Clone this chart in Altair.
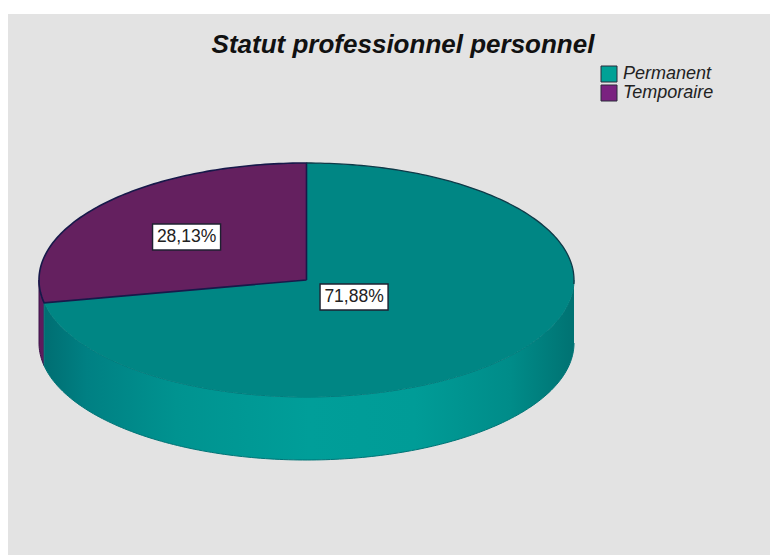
import math
import altair as alt
import pandas as pd

# chart values
categories = ["Permanent", "Temporaire"]
shares = [71.88, 28.13]
labels = ["71,88%", "28,13%"]

W, H = 762, 541
CX, CY, RX, RY = 298.5, 266.0, 267.5, 117.0
DEPTH = 63 / RY

x_scale = alt.Scale(domain=[-CX / RX, (W - CX) / RX], nice=False, zero=False)
y_scale = alt.Scale(domain=[-(H - CY) / RY, CY / RY], nice=False, zero=False)
X = alt.X("x:Q", scale=x_scale, axis=None)
Y = alt.Y("y:Q", scale=y_scale, axis=None)

split = 360 * shares[0] / (shares[0] + shares[1])


def arc(a0, a1, drop=0.0):
    n = max(2, int(abs(a1 - a0)) + 1)
    out = []
    for k in range(n + 1):
        a = math.radians(a0 + (a1 - a0) * k / n)
        out.append((math.sin(a), math.cos(a) - drop))
    return out


def path(points, **mark):
    df = pd.DataFrame(points, columns=["x", "y"])
    df["i"] = range(len(df))
    return alt.Chart(df).mark_line(**mark).encode(x=X, y=Y, order="i:Q")


def gradient(stops):
    return alt.Gradient(
        gradient="linear", x1=0, x2=1, y1=0, y2=0,
        stops=[alt.GradientStop(color=c, offset=o) for o, c in stops],
    )


wall_teal = arc(90, split) + arc(split, 90, DEPTH)
wall_purple = arc(split, 270) + arc(270, split, DEPTH)
top_teal = [(0, 0)] + arc(0, split) + [(0, 0)]
top_purple = [(0, 0)] + arc(split, 360) + [(0, 0)]

INK = "#17194A"
layers = [
    # legend source, hidden under the pie
    alt.Chart(pd.DataFrame({"cat": categories, "x": [0, 0], "y": [0, 0]}))
    .mark_square(size=1, opacity=1)
    .encode(
        x=X, y=Y,
        color=alt.Color(
            "cat:N",
            scale=alt.Scale(domain=categories, range=["#00A196", "#7A2280"]),
            legend=alt.Legend(
                title=None, orient="none", legendX=592, legendY=51,
                symbolType="square", symbolSize=256, symbolStrokeColor="#2A2A3A",
                symbolStrokeWidth=1, symbolOpacity=1,
                labelFont="Liberation Sans", labelFontStyle="italic", labelFontSize=18,
                labelColor="#222222", labelOffset=5, rowPadding=-2, padding=0,
            ),
        ),
    ),
    path(wall_purple, fill="#5E1B5C", stroke="#3A1248", strokeWidth=1),
    path(
        wall_teal,
        fill=gradient([
            (0.0, "#006E72"), (0.08, "#008083"), (0.25, "#009390"),
            (0.5, "#009E99"), (0.7, "#009C97"), (0.88, "#008C89"), (1.0, "#007272"),
        ]),
        stroke="#007476", strokeWidth=1,
    ),
    path(top_teal, fill="#008684", strokeWidth=0, stroke="#008684"),
    path(top_purple, fill="#64205F", stroke=INK, strokeWidth=1.6),
    path(arc(0, 92), stroke="#0F3A48", strokeWidth=1.3),
]

# slice value labels, placed along each slice's mid-angle
mids = [0.5 * split, 0.5 * (split + 360)]
reach = [0.23, 0.58]
lab = pd.DataFrame({
    "x": [math.sin(math.radians(m)) * r for m, r in zip(mids, reach)],
    "y": [math.cos(math.radians(m)) * r for m, r in zip(mids, reach)],
    "t": labels,
})
layers.append(
    alt.Chart(lab).mark_rect(width=68, height=26, fill="white", stroke="#1E2030", strokeWidth=1.4)
    .encode(x=X, y=Y)
)
layers.append(
    alt.Chart(lab).mark_text(font="Liberation Sans", fontSize=17.5, color="#222222")
    .encode(x=X, y=Y, text="t:N")
)

chart = (
    alt.layer(*layers)
    .properties(
        width=W, height=H,
        padding={"left": 0, "right": 0, "top": 6, "bottom": 0},
        background="white",
        autosize=alt.AutoSizeParams(type="none"),
        title=alt.TitleParams(
            "Statut professionnel personnel",
            font="Liberation Sans", fontSize=26, fontStyle="italic", fontWeight="bold",
            color="#111111", anchor="middle", offset=0, dx=14, dy=44,
        ),
    )
    .configure_view(fill="#E3E3E3", stroke=None)
    .resolve_scale(color="independent")
)

chart.save("out.html", embed_options={"renderer": "svg", "actions": False})
